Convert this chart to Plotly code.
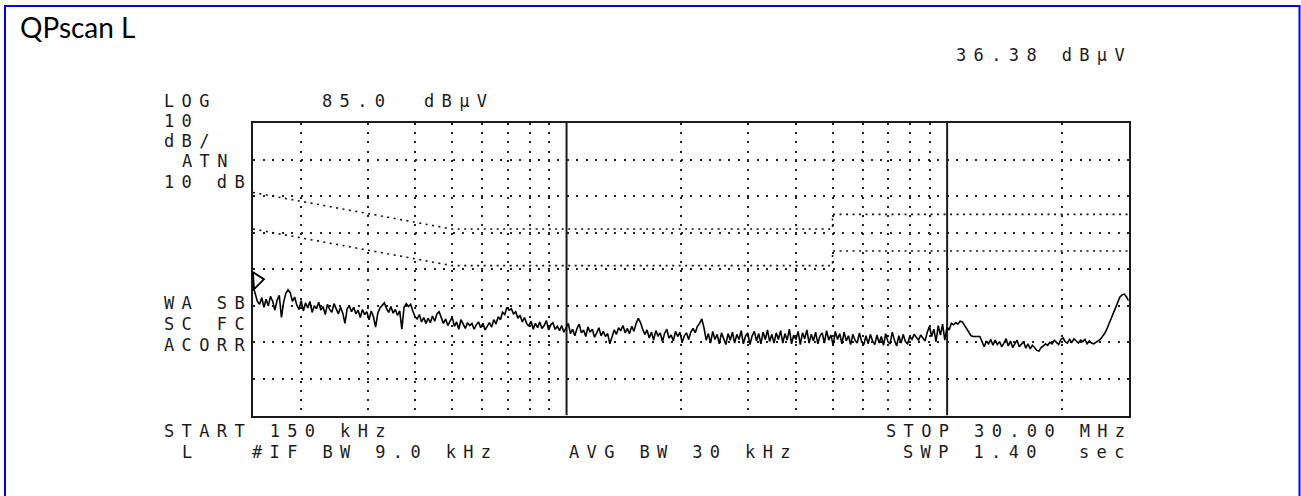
import numpy as np
import plotly.graph_objects as go

W, H = 1301, 496

# ---- sweep settings -------------------------------------------------------
F_START_MHZ = 0.15
F_STOP_MHZ = 30.0
REF_LEVEL = 85.0      # dBuV, top graticule line
DB_PER_DIV = 10.0
N_DIV = 8

# ---- measured quasi-peak trace (dBuV), 401 sweep bins ---------------------
level_dbuv = [
    40.5, 38.6, 36.2, 35.4, 37.2, 34.6, 36.8, 35.0, 37.6, 36.2, 33.8, 36.5, 37.9, 31.8, 36.0, 38.4, 39.4, 38.6, 36.2, 37.4,
    35.2, 34.0, 36.4, 33.6, 35.8, 34.4, 36.2, 33.2, 35.0, 34.2, 36.0, 33.8, 34.8, 32.6, 35.4, 34.0, 33.2, 35.6, 34.2, 32.8,
    34.6, 33.0, 30.2, 34.2, 35.0, 33.4, 34.6, 32.8, 33.8, 31.8, 34.0, 32.6, 33.4, 31.2, 33.6, 32.0, 29.2, 33.0, 34.4, 35.2,
    35.8, 34.2, 33.2, 34.8, 33.0, 34.0, 32.4, 33.6, 28.6, 34.6, 35.6, 34.8, 35.4, 33.6, 32.0, 31.4, 32.6, 30.6, 31.8, 30.2,
    31.6, 30.4, 32.2, 30.8, 32.8, 33.4, 31.6, 30.2, 31.4, 29.6, 30.8, 31.8, 29.4, 30.6, 28.6, 31.2, 30.0, 28.8, 30.4, 29.6,
    30.2, 28.6, 29.8, 30.6, 29.0, 30.2, 28.4, 29.6, 30.4, 29.2, 31.2, 30.0, 32.0, 31.2, 33.2, 32.6, 34.6, 33.8, 34.2, 32.8,
    33.4, 31.6, 32.4, 30.6, 31.8, 30.2, 29.4, 30.8, 28.6, 30.2, 29.0, 30.6, 28.8, 29.6, 31.0, 28.4, 29.8, 30.4, 28.6, 29.4,
    28.2, 29.6, 27.8, 29.0, 30.2, 27.4, 28.6, 26.8, 28.8, 30.0, 27.6, 28.4, 26.6, 29.2, 27.8, 28.6, 26.4, 27.6, 29.0, 26.8,
    28.0, 26.6, 27.4, 24.6, 26.8, 28.4, 27.2, 29.0, 28.2, 29.6, 27.6, 28.8, 27.4, 29.4, 28.0, 30.2, 31.6, 30.4, 28.6, 27.2,
    28.4, 26.2, 27.8, 25.6, 28.2, 26.8, 27.6, 25.2, 27.4, 28.6, 26.2, 27.0, 25.4, 28.0, 26.6, 27.8, 25.0, 26.8, 27.6, 25.8,
    27.8, 28.8, 27.6, 29.4, 30.2, 31.4, 29.0, 25.6, 27.4, 24.8, 28.0, 25.8, 27.2, 24.6, 27.6, 26.2, 24.4, 27.4, 25.6, 27.8,
    24.8, 27.2, 25.8, 28.2, 24.6, 26.8, 27.6, 24.4, 26.8, 28.0, 25.4, 27.4, 24.6, 27.8, 25.8, 28.4, 25.2, 27.2, 24.8, 27.6,
    25.8, 28.2, 24.8, 27.4, 25.6, 28.6, 24.6, 27.0, 25.8, 28.0, 24.4, 27.6, 26.0, 28.4, 24.8, 27.2, 25.4, 27.8, 24.6, 26.8,
    27.6, 24.8, 28.2, 25.6, 27.0, 24.2, 28.0, 25.8, 27.4, 24.6, 27.8, 25.4, 26.8, 24.4, 27.2, 25.6, 24.8, 27.6, 25.2, 24.4,
    26.8, 24.6, 27.2, 25.4, 24.4, 27.0, 24.8, 26.6, 24.2, 27.4, 25.2, 24.6, 27.8, 25.6, 24.0, 26.8, 24.8, 27.2, 25.2, 24.6,
    26.6, 25.8, 27.2, 26.4, 25.6, 27.0, 26.2, 25.4, 27.8, 29.4, 26.6, 28.6, 25.2, 29.6, 27.0, 30.0, 25.6, 29.2, 28.4, 30.2,
    29.8, 30.4, 30.0, 30.8, 30.6, 29.6, 28.4, 27.6, 26.8, 26.6, 26.6, 26.4, 26.6, 25.2, 23.8, 25.4, 24.6, 25.8, 24.2, 25.6,
    24.4, 25.2, 23.8, 24.8, 26.0, 24.0, 25.4, 23.6, 24.8, 25.6, 23.8, 24.6, 25.2, 23.4, 24.6, 23.2, 24.2, 23.6, 22.8, 22.6,
    23.6, 24.0, 24.6, 24.2, 25.0, 24.6, 25.6, 25.0, 24.4, 25.8, 26.2, 25.2, 24.8, 25.8, 25.0, 26.0, 25.4, 24.8, 25.6, 25.2,
    25.8, 24.6, 25.4, 24.8, 24.6, 25.0, 25.2, 25.8, 26.6, 27.4, 28.6, 30.0, 31.6, 33.0, 34.4, 35.8, 37.4, 38.0, 38.2, 37.4,
    36.38,
]
# sweep bins are spaced logarithmically between start and stop
freq_mhz = np.geomspace(F_START_MHZ, F_STOP_MHZ, len(level_dbuv))

# ---- limit lines (dBuV) ---------------------------------------------------
limit_freq_mhz = [0.15, 0.5, 5.0, 5.0, 30.0]
limit_qp_dbuv = [66, 56, 56, 60, 60]
limit_av_dbuv = [56, 46, 46, 50, 50]

# ---- graticule ------------------------------------------------------------
grid_freq_mhz = [0.2, 0.3, 0.4, 0.5, 0.6, 0.7, 0.8, 0.9,
                 2, 3, 4, 5, 6, 7, 8, 9, 20]
decade_freq_mhz = [1, 10]
grid_level_dbuv = [15, 25, 35, 45, 55, 65, 75]

y_bottom = REF_LEVEL - N_DIV * DB_PER_DIV

# plot area in pixels
PX_L, PX_R, PX_T, PX_B = 253, 1128.7, 123, 415.5

INK = "#1b1b1b"
MONO = "DejaVu Sans Mono"

fig = go.Figure()

# solid decade lines
for f in decade_freq_mhz:
    fig.add_trace(go.Scatter(
        x=[f, f], y=[y_bottom, REF_LEVEL], mode="lines",
        line=dict(color=INK, width=2), hoverinfo="skip", showlegend=False))

# limit lines
for lim in (limit_qp_dbuv, limit_av_dbuv):
    fig.add_trace(go.Scatter(
        x=limit_freq_mhz, y=lim, mode="lines",
        line=dict(color="#111111", width=1.6, dash="2px,4.5px"),
        hoverinfo="skip", showlegend=False))

# measured trace
fig.add_trace(go.Scatter(
    x=freq_mhz, y=level_dbuv, mode="lines",
    line=dict(color="#000000", width=1.6),
    showlegend=False))

fig.update_xaxes(
    type="log",
    range=[np.log10(F_START_MHZ), np.log10(F_STOP_MHZ)],
    domain=[PX_L / W, PX_R / W],
    tickvals=grid_freq_mhz, showticklabels=False, ticks="",
    showgrid=True, gridcolor="#222222", gridwidth=1.6, griddash="2px,7.2px",
    showline=True, linecolor=INK, linewidth=2, mirror=True,
    zeroline=False,
)
fig.update_yaxes(
    range=[y_bottom, REF_LEVEL],
    domain=[(H - PX_B) / H, (H - PX_T) / H],
    tickvals=grid_level_dbuv, showticklabels=False, ticks="",
    showgrid=True, gridcolor="#222222", gridwidth=1.6, griddash="2px,7.5px",
    showline=True, linecolor=INK, linewidth=2, mirror=True,
    zeroline=False,
)

# ---- screen annotations on the analyzer's character grid ------------------
COL0 = 162.0
PITCH = 17.6
FONT_SIZE = 17
LETTER_SP = PITCH - 0.602 * FONT_SIZE

screen_text = [
    (45, 55, "36.38 dBµV"),
    (0, 101.5, "LOG"), (9, 101.5, "85.0"), (14.75, 101.5, "dBµV"),
    (0, 121, "10"),
    (0, 141, "dB/"),
    (1, 161.5, "ATN"),
    (0, 181.5, "10 dB"),
    (0, 303, "WA SB"),
    (0, 324, "SC FC"),
    (0, 345, "ACORR"),
    (0, 431, "START 150 kHz"),
    (41, 431, "STOP 30.00 MHz"),
    (1, 452, "L"),
    (5, 452, "#IF BW 9.0 kHz"),
    (23, 452, "AVG BW 30 kHz"),
    (42, 452, "SWP 1.40"),
    (52, 452, "sec"),
]

annotations = []
for col, ypx, txt in screen_text:
    annotations.append(dict(
        xref="paper", yref="paper",
        x=(COL0 + col * PITCH) / W, y=(H - ypx) / H,
        xanchor="left", yanchor="middle",
        text=f'<span style="letter-spacing:{LETTER_SP:.2f}px">{txt}</span>',
        showarrow=False,
        font=dict(family=MONO, size=FONT_SIZE, color=INK),
    ))

annotations.append(dict(
    xref="paper", yref="paper", x=18 / W, y=(H - 27) / H,
    xanchor="left", yanchor="middle", text="QPscan L", showarrow=False,
    font=dict(family="Lato", size=28, color="#000000"),
))

shapes = [
    # outer blue frame (open at the bottom edge of the page)
    dict(type="rect", xref="paper", yref="paper",
         x0=5 / W, x1=1299.5 / W, y0=-0.05, y1=(H - 6) / H,
         line=dict(color="#0000ff", width=2), fillcolor="rgba(0,0,0,0)",
         layer="above"),
    # start-of-sweep marker glyph
    dict(type="path", xref="paper", yref="y",
         xsizemode="pixel", ysizemode="pixel",
         xanchor=PX_L / W, yanchor=42.0,
         path="M 0,8 L 11,1 L 1,-9 Z",
         line=dict(color="#000000", width=1.8), fillcolor="rgba(0,0,0,0)"),
]

fig.update_layout(
    width=W, height=H,
    margin=dict(l=0, r=0, t=0, b=0),
    paper_bgcolor="white", plot_bgcolor="white",
    annotations=annotations, shapes=shapes,
    showlegend=False,
)

fig.write_html("out.html")
